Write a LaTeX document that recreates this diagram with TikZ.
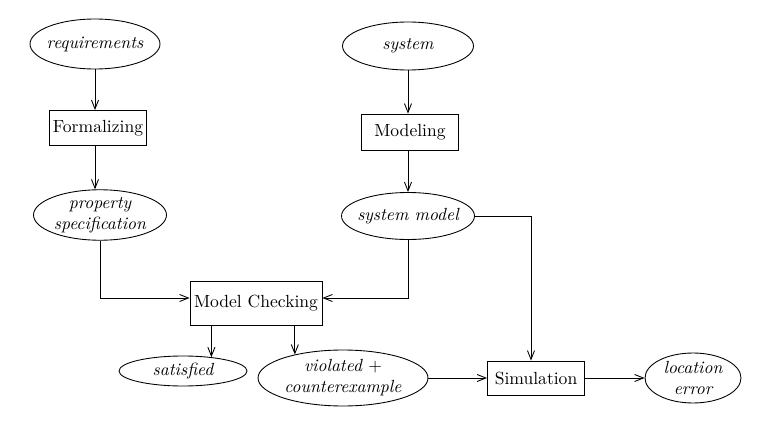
\documentclass[tikz,border=0pt]{standalone}
\usepackage{tikz}
\usetikzlibrary{calc}
\usetikzlibrary{shapes.geometric}
\usetikzlibrary{arrows.meta}

\begin{document}
\begin{tikzpicture}[x=0.02cm, y=-0.02cm, line width=0.5pt, >={Straight Barb[length=5pt,width=4pt]}]

    \tikzset{
        artefact/.style={draw, ellipse, inner xsep=-3pt, inner ysep=0pt, align=center, font=\itshape},
        activity/.style={draw, rectangle, inner sep=0pt, align=center}
    }
    \useasboundingbox (0, 0) rectangle (768, 426);

    \node [artefact, minimum width=2.6cm, minimum height=1cm] (Req) at (95, 44) {requirements};
        \node [activity, minimum width=1.94cm, minimum height=0.7cm] (Form) at ($(Req) + (3, 84)$) {Formalizing};
        \node [artefact, minimum width=2.66cm, minimum height=1cm] (Prop) at ($(Req) + (5, 171)$) {property\\specification};
    \node [artefact, minimum width=2.62cm, minimum height=0.96cm] (Sys) at (408, 46) {system};
        \node [activity, minimum width=1.94cm, minimum height=0.72cm] (Mod) at ($(Sys) + (2, 86)$) {Modeling};
        \node [artefact, minimum width=2.66cm, minimum height=0.94cm] (SysM) at ($(Sys) + (0, 170)$) {system model};
    \node [activity, minimum width=2.64cm, minimum height=0.88cm] (MC) at (256, 303) {Model Checking};
        \node [artefact, minimum width=2.56cm, minimum height=0.6cm] (Sat) at ($(MC) + (-73, 68)$) {satisfied};
        \node [artefact, minimum width=3.4cm, minimum height=1.12cm] (Viol) at ($(MC) + (87, 75)$) {violated $+$\\counterexample};
    \node [activity, minimum width=1.94cm, minimum height=0.68cm] (Sim) at (536, 378) {Simulation};
        \node [artefact, minimum width=1.92cm, minimum height=1cm] (Loc) at ($(Sim) + (157, 0)$) {location\\error};

    \draw [->] (Req.south) -- (Req.south |- Form.north);
    \draw [->] (Form.south -| Req.south) -- (Prop.north -| Req.south);
    \draw [->] (Sys.south) -- (Sys.south |- Mod.north);
    \draw [->] (Mod.south -| Sys.south) -- (SysM.north);
    \draw [->] (Prop.south) |- ($(MC.west) + (0, -5)$);
    \draw [->] (SysM.south) |- ($(MC.east) + (0, -5)$);
    \draw [->] (SysM.east) -| ($(Sim.north) + (-5, 0)$);
        \draw [->] (MC.south -| Sat.26) -- (Sat.26);
        \draw [->] (MC.south -| Viol.154) -- (Viol.154);
    \draw [->] (Viol) -- (Sim);
    \draw [->] (Sim) -- (Loc);

\end{tikzpicture}
\end{document}
